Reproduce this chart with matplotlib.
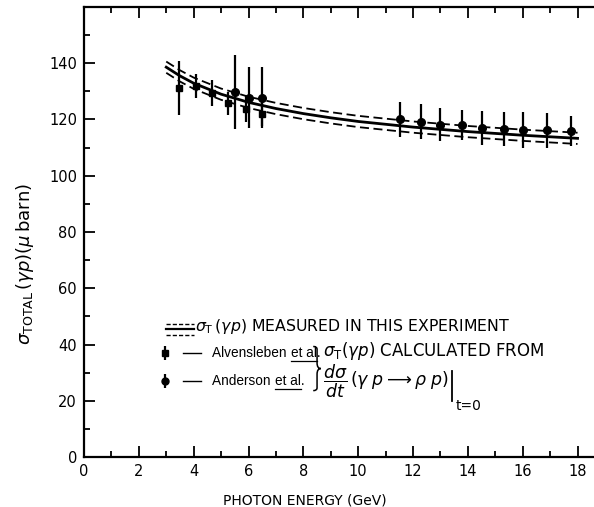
import matplotlib
matplotlib.use("Agg")
import numpy as np
from matplotlib import pyplot as plt
from matplotlib.path import Path
from matplotlib.patches import PathPatch

# Alvensleben et al. (squares)
alv_energy = [3.47, 4.09, 4.67, 5.26, 5.91, 6.50]
alv_sigma = [131.2, 131.9, 129.5, 125.7, 123.7, 122.1]
alv_err = [9.6, 4.1, 4.7, 4.2, 4.5, 4.4]

# Anderson et al. (circles)
and_energy = [5.49, 6.02, 6.50, 11.51, 12.30, 13.00, 13.80, 14.53, 15.32, 16.01, 16.90, 17.76]
and_sigma = [129.8, 127.8, 127.8, 120.0, 119.2, 118.2, 117.9, 117.0, 116.7, 116.2, 116.1, 116.0]
and_err = [13.3, 10.8, 10.7, 6.2, 6.2, 5.9, 5.3, 6.1, 6.1, 6.3, 6.3, 5.3]

# measured sigma_T curve with its band
fit_energy = [3.0, 3.5, 4, 5, 6, 7, 8, 9, 10, 12, 14, 16, 18]
fit_sigma = [138.6, 135.5, 132.9, 129.0, 126.1, 123.9, 122.1, 120.6, 119.3, 117.3, 115.7, 114.4, 113.3]
fit_band = 2.0

plt.rcParams["font.family"] = ["DejaVu Sans"]
plt.rcParams["mathtext.fontset"] = "dejavusans"

fig = plt.figure(figsize=(5.94, 5.07), dpi=100)
ax = fig.add_axes([0.1414, 0.0986, 0.8586, 0.8876])

fe = np.array(fit_energy)
fs = np.array(fit_sigma)
ax.plot(fe, fs, color="black", lw=2.0)
ax.plot(fe, fs + fit_band, color="black", lw=1.3, ls=(0, (5, 2.5)))
ax.plot(fe, fs - fit_band, color="black", lw=1.3, ls=(0, (5, 2.5)))

ax.errorbar(alv_energy, alv_sigma, yerr=alv_err, fmt="s", color="black",
            ms=5, elinewidth=1.6, capsize=0)
ax.errorbar(and_energy, and_sigma, yerr=and_err, fmt="o", color="black",
            ms=5.5, elinewidth=1.6, capsize=0)

ax.set_xlim(0, 18.6)
ax.set_ylim(0, 160)
ax.set_xticks(np.arange(0, 19, 2))
ax.set_xticks(np.arange(0, 19, 1), minor=True)
ax.set_yticks(np.arange(0, 141, 20))
ax.set_yticks(np.arange(0, 161, 10), minor=True)
ax.tick_params(which="both", direction="in", top=True, right=False, width=1.3,
               labelsize=10.5)
ax.tick_params(which="major", length=8, pad=5)
ax.tick_params(which="minor", length=4)
ax.spines["right"].set_visible(False)
for side in ("left", "bottom", "top"):
    ax.spines[side].set_linewidth(1.6)

ax.set_xlabel("PHOTON ENERGY (GeV)", fontsize=10)
ax.xaxis.set_label_coords(0.433, -0.082)
ax.set_ylabel(r"$\sigma_{\rm TOTAL}\,(\gamma p)(\mu\,{\rm barn})$", fontsize=13)
ax.yaxis.set_label_coords(-0.095, 0.43)

# hand-drawn style legend
nsz = 9.8
lx = [3.0, 4.0]
ax.plot(lx, [47.3, 47.3], color="black", lw=1.0, ls=(0, (3, 1.5)))
ax.plot(lx, [45.4, 45.4], color="black", lw=1.6)
ax.plot(lx, [43.4, 43.4], color="black", lw=1.0, ls=(0, (3, 1.5)))
ax.text(4.05, 46.5, r"$\sigma_{\rm T}\,(\gamma p)$ MEASURED IN THIS EXPERIMENT",
        fontsize=11.3, va="center")

ax.errorbar([2.96], [37.0], yerr=[2.5], fmt="s", color="black", ms=5,
            elinewidth=1.6, capsize=0)
ax.errorbar([2.96], [27.1], yerr=[2.5], fmt="o", color="black", ms=5,
            elinewidth=1.6, capsize=0)
ax.plot([3.6, 4.25], [37.0, 37.0], color="black", lw=1.0)
ax.plot([3.6, 4.25], [27.1, 27.1], color="black", lw=1.0)
t_alv = ax.text(4.68, 37.0, "Alvensleben ", fontsize=nsz, va="center",
                family="Liberation Sans")
t_and = ax.text(4.68, 27.1, "Anderson ", fontsize=nsz, va="center",
                family="Liberation Sans")
e_alv = ax.annotate("et al.", xy=(1, 0.5), xycoords=t_alv, fontsize=nsz,
                    va="center", family="Liberation Sans")
e_and = ax.annotate("et al.", xy=(1, 0.5), xycoords=t_and, fontsize=nsz,
                    va="center", family="Liberation Sans")

# thin curly brace joining the two rows
bx, by_top, by_bot, bw = 8.5, 39.3, 23.6, 0.14
by_mid = (by_top + by_bot) / 2
verts = [(bx - bw, by_top), (bx, by_top), (bx, by_top - 1), (bx, by_mid + 2),
         (bx, by_mid), (bx + bw, by_mid), (bx + bw, by_mid),
         (bx, by_mid), (bx, by_mid - 2), (bx, by_bot + 1),
         (bx, by_bot), (bx - bw, by_bot)]
codes = [Path.MOVETO, Path.CURVE3, Path.CURVE3, Path.LINETO,
         Path.CURVE3, Path.CURVE3, Path.MOVETO,
         Path.CURVE3, Path.CURVE3, Path.LINETO,
         Path.CURVE3, Path.CURVE3]
ax.add_patch(PathPatch(Path(verts, codes), fill=False, lw=1.1, color="black"))

ax.text(8.7, 37.6, r"$\sigma_{\rm T}(\gamma p)$ CALCULATED FROM",
        fontsize=12, va="center")
t_frac = ax.text(8.72, 27.0,
                 r"$\dfrac{d\sigma}{dt}\,(\gamma\;p \longrightarrow \rho\;p)$",
                 fontsize=12.5, va="center")

# evaluation bar and the t=0 subscript
fig.canvas.draw()
inv = ax.transData.inverted()
fb = t_frac.get_window_extent()
(fx1, fy0), (_, fy1) = inv.transform([(fb.x1, fb.y0), (fb.x1, fb.y1)])
ax.plot([fx1 + 0.12, fx1 + 0.12], [fy0 - 0.5, fy1 - 3.2], color="black", lw=1.3)
ax.text(fx1 + 0.25, fy0 + 0.2, "t=0", fontsize=10, va="top", ha="left")

# underline the "et al." words
for e in (e_alv, e_and):
    bb = e.get_window_extent()
    (x0, y0), (x1, _) = inv.transform([(bb.x0, bb.y0), (bb.x1, bb.y1)])
    ax.plot([x0, x1 - 0.1], [y0 - 0.3, y0 - 0.3], color="black", lw=0.9)

fig.savefig("out.png", dpi=100)
